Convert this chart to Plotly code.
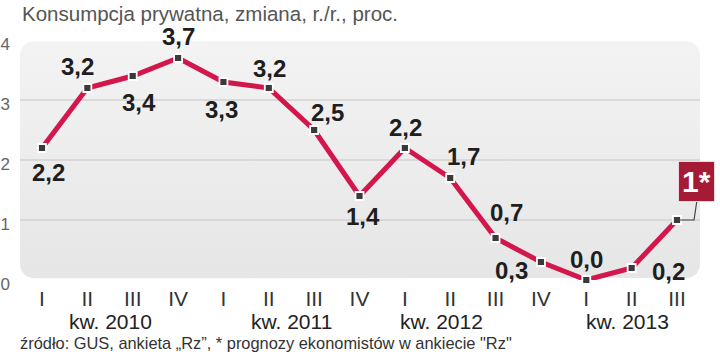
import numpy as np
import plotly.graph_objects as go

# ---- data ----
quarters = ["I", "II", "III", "IV", "I", "II", "III", "IV", "I", "II", "III", "IV", "I", "II", "III"]
values = [2.2, 3.2, 3.4, 3.7, 3.3, 3.2, 2.5, 1.4, 2.2, 1.7, 0.7, 0.3, 0.0, 0.2, 1.0]
year_labels = ["kw. 2010", "kw. 2011", "kw. 2012", "kw. 2013"]
year_pos = [1.5, 5.5, 8.8, 12.9]
y_ticks = [0, 1, 2, 3, 4]
grid_vals = [1, 2, 3]
forecast_label = "1*"

title = "Konsumpcja prywatna, zmiana, r./r., proc."
footer = "źródło: GUS, ankieta „Rz”, * prognozy ekonomistów w ankiecie \"Rz\""

FONT = "Liberation Sans, Arial, sans-serif"
xidx = list(range(len(values)))
XR = [-0.485, 14.507]
YR = [0, 4]

fig = go.Figure()

# rounded background box (decoration)
def rounded_rect(x0, x1, y0, y1, rx, ry, n=10):
    xs, ys = [], []
    for cx, cy, a0 in [(x1 - rx, y1 - ry, 0), (x0 + rx, y1 - ry, 90),
                       (x0 + rx, y0 + ry, 180), (x1 - rx, y0 + ry, 270)]:
        t = np.radians(np.linspace(a0, a0 + 90, n))
        xs += list(cx + rx * np.cos(t))
        ys += list(cy + ry * np.sin(t))
    xs.append(xs[0]); ys.append(ys[0])
    return xs, ys

bx, by = rounded_rect(XR[0], XR[1], 0.03, 3.98, 14 / 45.36, 14 / 60)
fig.add_trace(go.Scatter(
    x=bx, y=by, mode="lines", line=dict(width=0), fill="toself",
    fillcolor="#eeeeee",
    fillgradient=dict(type="vertical", colorscale=[[0, "#e6e6e6"], [1, "#f3f3f3"]]),
    hoverinfo="skip", showlegend=False))

# grid lines
gx, gy = [], []
for g in grid_vals:
    gx += [XR[0], XR[1], None]
    gy += [g, g, None]
fig.add_trace(go.Scatter(x=gx, y=gy, mode="lines", line=dict(color="#d2d2d2", width=1.5),
                         hoverinfo="skip", showlegend=False))

# main line
fig.add_trace(go.Scatter(
    x=xidx, y=values, mode="lines+markers",
    line=dict(color="#d3164b", width=5),
    marker=dict(symbol="square", size=8, color="#3a3a3a", line=dict(color="white", width=1.8)),
    cliponaxis=False, showlegend=False))

# value labels
offsets = [(6, -24), (-10, 22), (6, -26), (0, 22), (-2, -27), (1, 20), (13, 18), (3, -20),
           (1, 21), (13, 22), (11, 26), (-29, -8), (0, 21), (37, -3)]
for i, (dx, dy) in enumerate(offsets):
    fig.add_annotation(x=xidx[i], y=values[i], xref="x", yref="y", showarrow=False,
                       text=f"{values[i]:.1f}".replace(".", ","),
                       xshift=dx, yshift=dy,
                       font=dict(family=FONT, size=24, color="#1e1e1e", weight="bold"))

# forecast box
fig.add_annotation(x=xidx[-1], y=values[-1], xref="x", yref="y", showarrow=False,
                   text=f"<b>{forecast_label}</b>", xshift=19, yshift=39,
                   bgcolor="#a51b36", bordercolor="#f4d6dc", borderwidth=1, borderpad=3,
                   font=dict(family=FONT, size=30, color="white"))
fig.add_shape(type="path", xref="x", yref="y", xsizemode="pixel", ysizemode="pixel",
              xanchor=xidx[-1], yanchor=values[-1],
              path="M 0 0 L 17 0 L 20 20", line=dict(color="#444444", width=1.2))

# year labels
for lbl, pos in zip(year_labels, year_pos):
    fig.add_annotation(x=pos, y=(280 - 321) / 240, xref="x", yref="paper", showarrow=False,
                       text=lbl, yanchor="middle",
                       font=dict(family=FONT, size=21, color="#222222"))

# title & footer
fig.add_annotation(x=0, y=(280 - 14) / 240, xref="paper", yref="paper", showarrow=False,
                   xanchor="left", yanchor="middle", text=title,
                   font=dict(family=FONT, size=20.5, color="#555555"))
fig.add_annotation(x=-0.003, y=(280 - 343) / 240, xref="paper", yref="paper", showarrow=False,
                   xanchor="left", yanchor="middle", text=footer,
                   font=dict(family=FONT, size=16.4, color="#333333"))

fig.update_layout(
    width=720, height=357,
    margin=dict(l=20, r=20, t=40, b=77, autoexpand=False),
    paper_bgcolor="white", plot_bgcolor="rgba(0,0,0,0)",
    xaxis=dict(range=XR, tickvals=xidx, ticktext=quarters, showgrid=False, zeroline=False,
               showline=False, ticks="", automargin=False,
               tickfont=dict(family=FONT, size=21, color="#333333"),
               ticklabelstandoff=4),
    yaxis=dict(range=YR, tickvals=y_ticks, ticktext=[str(t) for t in y_ticks], showgrid=False,
               zeroline=False, showline=False, ticks="", ticklabelshift=4, automargin=False,
               ticklabelstandoff=9,
               tickfont=dict(family=FONT, size=17, color="#666666")),
)

fig.write_html("out.html", config={"displayModeBar": False},
               post_script="document.body.style.margin='0';document.body.style.padding='0';")
